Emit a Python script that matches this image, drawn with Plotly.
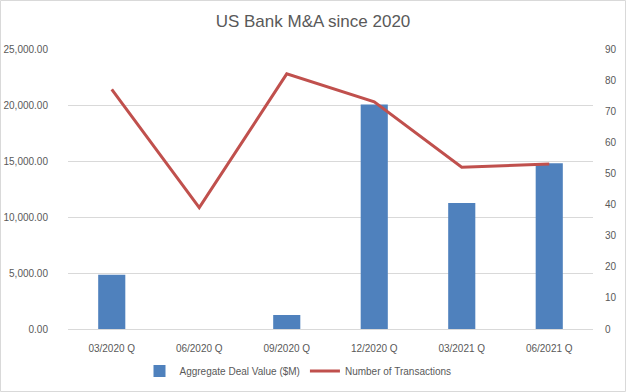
import plotly.graph_objects as go

categories = ["03/2020 Q", "06/2020 Q", "09/2020 Q", "12/2020 Q", "03/2021 Q", "06/2021 Q"]
deal_value = [4850, 0, 1250, 20050, 11250, 14800]
transactions = [77, 39, 82, 73, 52, 53]

W, H = 626, 392
L, R, T, B = 68, 33, 49, 63
pw, ph = W - L - R, H - T - B

font_family = "Liberation Sans, Arial, sans-serif"
grey = "#595959"

fig = go.Figure()
fig.add_trace(go.Bar(
    x=categories, y=deal_value, name="Aggregate Deal Value ($M)",
    marker=dict(color="#4f81bd", line=dict(width=0)), yaxis="y",
))
fig.add_trace(go.Scatter(
    x=categories, y=transactions, name="Number of Transactions",
    mode="lines", line=dict(color="#c0504d", width=3), yaxis="y2",
))

fig.update_layout(
    width=W, height=H,
    margin=dict(l=L, r=R, t=T, b=B, autoexpand=False),
    paper_bgcolor="white", plot_bgcolor="white",
    font=dict(family=font_family, size=10, color=grey),
    title=dict(text="US Bank M&A since 2020", x=0.5, xanchor="center",
               y=1 - 21 / H, yanchor="middle",
               font=dict(family=font_family, size=17, color=grey)),
    bargap=0.69,
    showlegend=True,
    legend=dict(orientation="h", x=(298 - L) / pw, xanchor="center", y=-42 / ph, yanchor="middle",
                font=dict(size=10, color=grey), traceorder="normal", itemwidth=30),
    xaxis=dict(showgrid=False, showline=True, linecolor="#d9d9d9", ticks="",
               ticklabelstandoff=10, automargin=False,
               tickfont=dict(size=10, color=grey)),
    yaxis=dict(range=[0, 25000], dtick=5000, tickformat=",.2f",
               showgrid=True, gridcolor="#d9d9d9", gridwidth=1,
               zeroline=False, showline=False, ticks="", ticklen=0,
               ticklabelstandoff=19, automargin=False,
               tickfont=dict(size=10, color=grey)),
    yaxis2=dict(range=[0, 90], dtick=10, overlaying="y", side="right",
                showgrid=False, zeroline=False, showline=False,
                ticklabelstandoff=11, automargin=False,
                tickfont=dict(size=10, color=grey)),
    shapes=[dict(type="rect", xref="paper", yref="paper",
                 x0=(0.5 - L) / pw, x1=(W - 0.5 - L) / pw,
                 y0=-(B - 0.5) / ph,
                 y1=(T - 0.5) / ph + 1,
                 line=dict(color="#d9d9d9", width=1), fillcolor="rgba(0,0,0,0)", layer="below")],
)

fig.write_html("out.html", config={"displayModeBar": False},
               post_script="document.body.style.margin='0';")
